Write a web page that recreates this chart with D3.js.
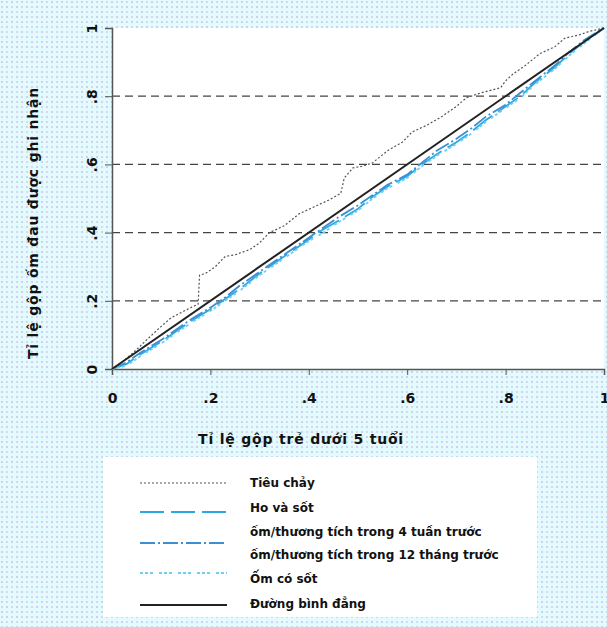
<!DOCTYPE html>
<html lang="vi">
	<head>
		<meta charset="utf-8">
		<title>Đường cong tập trung ốm đau</title>
		<script type="text/javascript" src="https://d3js.org/d3.v7.min.js"></script>
		<style type="text/css">
			body{margin:0;padding:0;font-family:"DejaVu Sans",Arial,sans-serif;}
			text{font-weight:bold;fill:#111;}
		</style>
	</head>
	<body>
		<div id="chart1"></div>
		<script type="text/javascript">
			// tick labels
			var tickVals = [0, .2, .4, .6, .8, 1]
			var tickLabels = ["0", ".2", ".4", ".6", ".8", "1"]

			// Tiêu chảy
			var diarX = [0, .02, .045, .07, .1, .12, .14, .16, .175, .178, .19, .21, .23, .25, .28, .3, .32, .35, .38, .41, .44, .465, .472, .49, .51, .53, .56, .59, .61, .64, .67, .7, .72, .75, .79, .8, .815, .84, .87, .9, .92, .95, .97, 1]
			var diarY = [0, .02, .05, .085, .125, .15, .165, .18, .19, .275, .28, .3, .33, .335, .35, .37, .4, .42, .455, .475, .495, .515, .56, .59, .595, .605, .64, .665, .695, .715, .74, .77, .795, .81, .825, .845, .865, .89, .925, .945, .97, .98, .99, 1]

			// shared x for the blue curves
			var blueX = [0, .03, .06, .1, .13, .16, .2, .23, .26, .3, .33, .36, .4, .43, .46, .5, .53, .56, .6, .63, .66, .7, .73, .76, .8, .83, .86, .9, .93, .96, 1]
			// Ho và sốt
			var coughY = [0, .015, .045, .08, .11, .14, .175, .205, .235, .28, .31, .34, .38, .41, .435, .47, .505, .535, .565, .6, .63, .665, .695, .73, .77, .8, .84, .885, .925, .96, 1]
			// ốm/thương tích trong 4 tuần trước
			var ill4Y = [0, .02, .05, .085, .115, .145, .18, .21, .245, .285, .315, .345, .385, .415, .445, .48, .51, .54, .57, .605, .64, .675, .705, .74, .775, .81, .845, .89, .93, .965, 1]
			// Ốm có sốt
			var feverY = [0, .01, .04, .075, .105, .135, .17, .2, .23, .275, .305, .335, .375, .4, .43, .465, .5, .53, .56, .595, .625, .66, .69, .725, .765, .795, .835, .88, .92, .955, 1]

			// equality line
			var eqX = [0, 1]
			var eqY = [0, 1]

			var legendLabels = ["Tiêu chảy", "Ho và sốt", "ốm/thương tích trong 4 tuần trước", "ốm/thương tích trong 12 tháng trước", "Ốm có sốt", "Đường bình đẳng"]

			var w = 607
			var h = 627
			var padLeft = 112, padRight = 604, padTop = 28, padBottom = 369

			var xScale = d3.scaleLinear().domain([0, 1]).range([padLeft, padRight])
			var yScale = d3.scaleLinear().domain([0, 1]).range([padBottom, padTop])

			var svg = d3.select("#chart1")
				.append("svg")
				.attr("width", w)
				.attr("height", h)

			//dotted background
			var pat = svg.append("defs").append("pattern")
				.attr("id", "dots")
				.attr("width", 10).attr("height", 10)
				.attr("patternUnits", "userSpaceOnUse")
			pat.append("rect").attr("width", 10).attr("height", 10).attr("fill", "#e3fbfe")
			pat.append("rect").attr("x", 1).attr("y", 1).attr("width", 2).attr("height", 2).attr("fill", "#d3cdf3")
			pat.append("rect").attr("x", 6).attr("y", 1).attr("width", 2).attr("height", 2).attr("fill", "#d2dede")
			pat.append("rect").attr("x", 1).attr("y", 6).attr("width", 2).attr("height", 2).attr("fill", "#d2dede")
			pat.append("rect").attr("x", 6).attr("y", 6).attr("width", 2).attr("height", 2).attr("fill", "#d3cdf3")

			svg.append("rect").attr("width", w).attr("height", h).attr("fill", "url(#dots)")

			// plot area
			svg.append("rect")
				.attr("x", padLeft).attr("y", padTop)
				.attr("width", padRight - padLeft).attr("height", padBottom - padTop)
				.attr("fill", "white")

			// grid lines
			svg.selectAll(".grid")
				.data([.2, .4, .6, .8])
				.enter()
				.append("line")
				.attr("class", "grid")
				.attr("x1", padLeft).attr("x2", padRight)
				.attr("y1", function(d){ return yScale(d) })
				.attr("y2", function(d){ return yScale(d) })
				.attr("stroke", "#444")
				.attr("stroke-width", 1.3)
				.attr("stroke-dasharray", "8,5")

			// axes
			var xAxis = d3.axisBottom(xScale).tickValues(tickVals).tickSize(6).tickFormat(function(d, i){ return tickLabels[i] })
			var gx = svg.append("g").attr("transform", "translate(0," + padBottom + ")").call(xAxis)
			gx.select(".domain").attr("stroke", "#555").attr("stroke-width", 1.5)
			gx.selectAll(".tick line").attr("stroke", "#555")
			gx.selectAll(".tick text")
				.attr("y", 34)
				.attr("dy", 0)
				.attr("font-family", "DejaVu Sans, Arial, sans-serif")
				.attr("font-size", "14px")
				.attr("font-weight", "bold")
				.attr("fill", "#111")

			var yAxis = d3.axisLeft(yScale).tickValues(tickVals).tickSize(7).tickFormat(function(d, i){ return tickLabels[i] })
			var gy = svg.append("g").attr("transform", "translate(" + padLeft + ",0)").call(yAxis)
			gy.select(".domain").attr("stroke", "#555").attr("stroke-width", 1.5)
			gy.selectAll(".tick line").attr("stroke", "#555")
			gy.selectAll(".tick text")
				.attr("x", null).attr("dy", null)
				.attr("transform", "translate(-15,0) rotate(-90)")
				.attr("text-anchor", "middle")
				.attr("font-family", "DejaVu Sans, Arial, sans-serif")
				.attr("font-size", "14px")
				.attr("font-weight", "bold")
				.attr("fill", "#111")

			// axis titles
			svg.append("text")
				.text("Tỉ lệ gộp trẻ dưới 5 tuổi")
				.attr("x", 301).attr("y", 444)
				.attr("text-anchor", "middle")
				.attr("font-size", "14px")
				.attr("letter-spacing", "0.8px")

			svg.append("text")
				.text("Tỉ lệ gộp ốm đau được ghi nhận")
				.attr("transform", "translate(38,223) rotate(-90)")
				.attr("text-anchor", "middle")
				.attr("font-size", "14px")
				.attr("letter-spacing", "0.8px")

			var line = d3.line()
				.x(function(d){ return xScale(d[0]) })
				.y(function(d){ return yScale(d[1]) })

			var series = [
				{x: diarX, y: diarY, color: "#555", width: 1.2, dash: "2,2"},
				{x: blueX, y: coughY, color: "#2aa8e2", width: 1.8, dash: "24,7"},
				{x: blueX, y: ill4Y, color: "#3b8fd2", width: 1.8, dash: "15,3,2,3"},
				{x: blueX, y: feverY, color: "#6fd0f2", width: 1.8, dash: "3,2,3,2,3,6"},
				{x: eqX, y: eqY, color: "#222", width: 2, dash: null}
			]

			svg.selectAll(".curve")
				.data(series)
				.enter()
				.append("path")
				.attr("class", "curve")
				.attr("d", function(s){
					return line(s.x.map(function(v, i){ return [v, s.y[i]] }))
				})
				.attr("fill", "none")
				.attr("stroke", function(s){ return s.color })
				.attr("stroke-width", function(s){ return s.width })
				.attr("stroke-dasharray", function(s){ return s.dash })

			// legend
			svg.append("rect")
				.attr("x", 103).attr("y", 457)
				.attr("width", 434).attr("height", 160)
				.attr("fill", "white")

			var keyY = [483, 512, 543, 573, 605]
			svg.selectAll(".key")
				.data(series)
				.enter()
				.append("line")
				.attr("class", "key")
				.attr("x1", 140).attr("x2", 227)
				.attr("y1", function(d, i){ return keyY[i] })
				.attr("y2", function(d, i){ return keyY[i] })
				.attr("stroke", function(s){ return s.color })
				.attr("stroke-width", function(s){ return s.width })
				.attr("stroke-dasharray", function(s){ return s.dash })

			var labelY = [487, 512, 536, 559, 583, 608]
			svg.selectAll(".label")
				.data(legendLabels)
				.enter()
				.append("text")
				.attr("class", "label")
				.text(function(d){ return d })
				.attr("x", 250)
				.attr("y", function(d, i){ return labelY[i] })
				.attr("font-size", "12px")
		</script>
	</body>
</html>
